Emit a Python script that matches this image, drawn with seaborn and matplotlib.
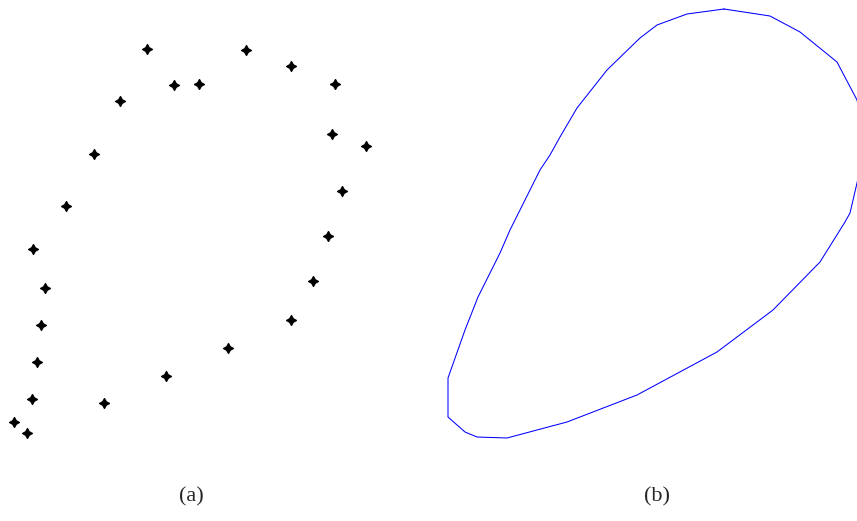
import pandas as pd
import seaborn as sns
import matplotlib
matplotlib.use("Agg")
import matplotlib.pyplot as plt

pts_x = [147, 246, 291, 174, 199, 335, 120, 332, 366, 94, 342, 66, 328,
         33, 45, 41, 37, 32, 14, 27, 104, 166, 228, 291, 313]
pts_y = [49, 50, 66, 85, 84, 84, 101, 134, 146, 154, 191, 206, 236,
         249, 288, 325, 362, 399, 422, 433, 403, 376, 348, 320, 281]

# (b) fitted closed curve, clockwise from the top
curve_x = [724, 770, 800, 837, 857, 866, 857, 850, 845, 820, 773, 717, 637,
           567, 507, 477, 465, 448, 448, 465, 478, 500, 510, 540, 550, 560,
           577, 607, 640, 657, 687, 724]
curve_y = [9, 16, 32, 62, 100, 140, 183, 213, 222, 262, 310, 352, 395,
           422, 438, 437, 432, 417, 378, 330, 297, 253, 230, 170, 155, 137,
           108, 70, 38, 25, 14, 9]

panel_labels = ["(a)", "(b)"]

sns.set_style("white")
plt.rcParams['font.family'] = ['Liberation Serif', 'DejaVu Serif']

pts = pd.DataFrame({"x": pts_x, "y": pts_y})
curve = pd.DataFrame({"x": curve_x, "y": curve_y})

fig = plt.figure(figsize=(8.57, 5.21), dpi=100)
ax1 = fig.add_axes([0, 0, 430 / 857, 1])
ax2 = fig.add_axes([430 / 857, 0, 427 / 857, 1])

sns.scatterplot(data=pts, x="x", y="y", ax=ax1, color="black",
                marker=(4, 1, 0), s=50, linewidth=1.0, edgecolor="black")
ax1.set_xlim(0, 430)
ax1.set_ylim(521, 0)

sns.lineplot(data=curve, x="x", y="y", ax=ax2, sort=False, estimator=None,
             color="#0000ff", linewidth=0.75)
ax2.set_xlim(430, 857)
ax2.set_ylim(521, 0)

for ax, lab, cx in zip([ax1, ax2], panel_labels, [191, 657]):
    ax.text(cx, 497, lab, ha="center", va="center", fontsize=16)
    ax.set_axis_off()

fig.savefig("out.png", dpi=100)
